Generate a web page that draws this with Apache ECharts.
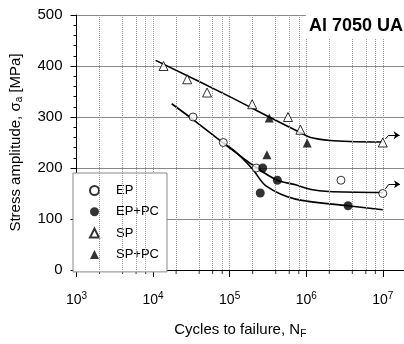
<!DOCTYPE html>
<html>
<head>
<meta charset="utf-8">
<script src="https://cdn.jsdelivr.net/npm/echarts@6/dist/echarts.min.js"></script>
<style>
html,body{margin:0;padding:0;background:#fff}
#chart{width:404px;height:344px}
</style>
</head>
<body>
<div id="chart"></div>
<script>
// measured points (cycles, stress amplitude MPa)
var epN = [3.33e4, 8.26e4, 2.22e5, 2.84e6, 1e7];
var epS = [300, 250, 200, 176, 150];
var epPcN = [2.7e5, 2.51e5, 4.2e5, 3.52e6];
var epPcS = [200, 151, 176, 126];
var spN = [1.37e4, 2.79e4, 5.07e4, 1.97e5, 5.78e5, 8.4e5, 1e7];
var spS = [400, 374, 348, 325, 300, 275, 250];
var spPcN = [3.29e5, 3.07e5, 1.03e6];
var spPcS = [298, 226, 249];

// fitted curves
var spCurveN = [1.08e4, 1e5, 3.82e5, 8.5e5, 1.14e6, 2.06e6, 3.72e6, 1e7];
var spCurveS = [411, 340, 295, 269, 260, 254, 252, 251];
var epCurveN = [1.75e4, 3.33e4, 8.26e4, 2.22e5, 4.2e5, 7.26e5, 1.15e6, 1.95e6, 1e7];
var epCurveS = [326, 295, 249, 201, 176, 167, 158, 154, 152];
var epPcCurveN = [8.26e4, 1.23e5, 2.01e5, 2.98e5, 7.26e5, 3.52e6, 1e7];
var epPcCurveS = [249, 230, 197, 165, 139, 126, 118];

// run-out arrows: short riser, then horizontal arrow
var spRiseN = [1.08e7, 1.19e7];
var spRiseS = [257, 264];
var spArrowN = [1.19e7, 1.66e7];
var spArrowS = [264, 264];
var epRiseN = [1.08e7, 1.2e7];
var epRiseS = [159, 168];
var epArrowN = [1.2e7, 1.68e7];
var epArrowS = [168, 168];

// minor grid positions (2,4,6,8 per decade)
var minorN = [2e3, 4e3, 6e3, 8e3, 2e4, 4e4, 6e4, 8e4, 2e5, 4e5, 6e5, 8e5, 2e6, 4e6, 6e6, 8e6];

var legendNames = ['EP', 'EP+PC', 'SP', 'SP+PC'];

function pairs(xs, ys) {
	return xs.map(function(x, i) { return [x, ys[i]]; });
}

var font = 'Liberation Sans, Arial, Helvetica, sans-serif';
var myChart = echarts.init(document.getElementById('chart'), null, {renderer: 'canvas'});

var option = {
	animation: false,
	backgroundColor: '#fff',
	textStyle: {fontFamily: font, color: '#000'},
	title: {
		text: 'Al 7050 UA',
		right: 0,
		top: 14,
		padding: [3, 1, 3, 3],
		backgroundColor: '#fff',
		textStyle: {fontFamily: font, fontSize: 18, fontWeight: 'bold', color: '#000'}
	},
	grid: {left: 73, right: -1, top: 15, bottom: 73, containLabel: false},
	legend: {
		data: legendNames,
		orient: 'vertical',
		left: 73,
		top: 173,
		padding: [10, 8, 10, 16],
		itemGap: 6.3,
		itemWidth: 9,
		itemHeight: 9,
		backgroundColor: '#fff',
		borderColor: '#888',
		borderWidth: 1,
		borderRadius: 0,
		selectedMode: false,
		textStyle: {fontFamily: font, fontSize: 13, color: '#000', padding: [0, 0, 0, 12], lineHeight: 15}
	},
	xAxis: {
		type: 'log',
		logBase: 10,
		min: 1e3,
		max: 1.892e7,
		name: '{n|Cycles to failure, N}{sub|F}',
		nameLocation: 'middle',
		nameGap: 51,
		nameTextStyle: {
			fontFamily: font,
			rich: {
				n: {fontFamily: font, fontSize: 15, color: '#000'},
				sub: {fontFamily: font, fontSize: 10, color: '#000', padding: [8, 0, 0, 0]}
			}
		},
		axisLine: {show: true, lineStyle: {color: '#000', width: 1}},
		axisTick: {show: true, inside: false, length: 7, lineStyle: {color: '#000'}},
		axisLabel: {
			margin: 21,
			showMaxLabel: false,
			formatter: function(v) {
				var l = Math.log10(v);
				var e = Math.round(l);
				if (Math.abs(l - e) > 1e-6) return '';
				return '{b|10}{s|' + e + '}';
			},
			rich: {
				b: {fontFamily: font, fontSize: 14, color: '#000'},
				s: {fontFamily: font, fontSize: 10, color: '#000', padding: [0, 0, 8, 0]}
			}
		},
		splitLine: {show: true, lineStyle: {color: '#999', type: 'dotted', width: 1}},
		minorTick: {show: false},
		minorSplitLine: {show: false}
	},
	yAxis: {
		type: 'value',
		min: 0,
		max: 500,
		interval: 100,
		name: '{n|Stress amplitude, σ}{sub|a}{n| [MPa]}',
		nameLocation: 'middle',
		nameGap: 52,
		nameTextStyle: {
			fontFamily: font,
			rich: {
				n: {fontFamily: font, fontSize: 15, color: '#000'},
				sub: {fontFamily: font, fontSize: 10, color: '#000', padding: [8, 0, 0, 0]}
			}
		},
		axisLine: {show: true, lineStyle: {color: '#000', width: 1}},
		axisTick: {show: true, inside: false, length: 6, lineStyle: {color: '#000'}},
		minorTick: {show: true, splitNumber: 5, length: 3, lineStyle: {color: '#000'}},
		axisLabel: {margin: 14, fontFamily: font, fontSize: 15, color: '#000'},
		splitLine: {show: true, lineStyle: {color: '#888', width: 1}}
	},
	series: [
		{
			// dotted minor grid and minor ticks on the log axis
			name: 'minor',
			type: 'scatter',
			z: 1,
			silent: true,
			clip: false,
			symbol: 'rect',
			symbolSize: [1, 4],
			symbolOffset: [0, 2],
			itemStyle: {color: '#000'},
			data: minorN.map(function(v) { return [v, 0]; }),
			markLine: {
				silent: true,
				symbol: ['none', 'none'],
				label: {show: false},
				lineStyle: {color: '#999', type: 'dotted', width: 1},
				data: minorN.map(function(v) { return {xAxis: v}; })
			}
		},
		{
			name: 'spCurve', type: 'line', z: 3, silent: true,
			symbol: 'none', smooth: 0.3,
			lineStyle: {color: '#000', width: 1.6},
			data: pairs(spCurveN, spCurveS)
		},
		{
			name: 'epCurve', type: 'line', z: 3, silent: true,
			symbol: 'none', smooth: 0.3,
			lineStyle: {color: '#000', width: 1.6},
			data: pairs(epCurveN, epCurveS)
		},
		{
			name: 'epPcCurve', type: 'line', z: 3, silent: true,
			symbol: 'none', smooth: 0.3,
			lineStyle: {color: '#000', width: 1.6},
			data: pairs(epPcCurveN, epPcCurveS)
		},
		{
			name: 'risers', type: 'lines', coordinateSystem: 'cartesian2d', z: 4,
			silent: true, symbol: ['none', 'none'],
			lineStyle: {color: '#000', width: 1, opacity: 1},
			data: [
				{coords: pairs(spRiseN, spRiseS)},
				{coords: pairs(epRiseN, epRiseS)}
			]
		},
		{
			name: 'arrows', type: 'lines', coordinateSystem: 'cartesian2d', z: 4,
			silent: true, symbol: ['none', 'arrow'], symbolSize: 6,
			lineStyle: {color: '#000', width: 1, opacity: 1},
			data: [
				{coords: pairs(spArrowN, spArrowS)},
				{coords: pairs(epArrowN, epArrowS)}
			]
		},
		{
			name: 'EP', type: 'scatter', z: 5,
			symbol: 'circle', symbolSize: 8,
			itemStyle: {color: '#fff', borderColor: '#000', borderWidth: 1},
			data: pairs(epN, epS)
		},
		{
			name: 'EP+PC', type: 'scatter', z: 5,
			symbol: 'circle', symbolSize: 9,
			itemStyle: {color: '#000', borderColor: '#000', borderWidth: 0},
			data: pairs(epPcN, epPcS)
		},
		{
			name: 'SP', type: 'scatter', z: 5,
			symbol: 'triangle', symbolSize: 9,
			itemStyle: {color: '#fff', borderColor: '#000', borderWidth: 1},
			data: pairs(spN, spS)
		},
		{
			name: 'SP+PC', type: 'scatter', z: 5,
			symbol: 'triangle', symbolSize: 9,
			itemStyle: {color: '#000', borderColor: '#000', borderWidth: 0},
			data: pairs(spPcN, spPcS)
		}
	]
};
myChart.setOption(option);
</script>
</body>
</html>
